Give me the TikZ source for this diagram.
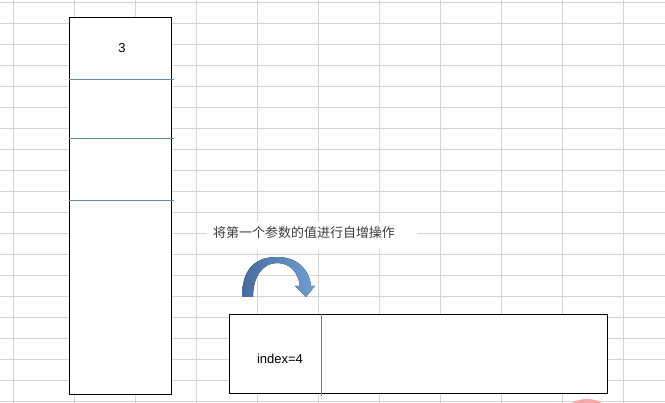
\documentclass[tikz,border=0pt]{standalone}
\usepackage{fontspec}
\setmainfont{Liberation Sans}
\newfontfamily\cjk{Noto Sans CJK SC}
\definecolor{gridgray}{RGB}{212,212,212}
\definecolor{lineblue}{RGB}{95,135,175}
\definecolor{arrowdark}{RGB}{70,108,158}
\definecolor{arrowlight}{RGB}{112,158,212}
\definecolor{notegray}{RGB}{60,60,60}
\definecolor{markpink}{RGB}{246,168,168}

\begin{document}
\begin{tikzpicture}[
    x = 1pt,
    y = -1pt,
    gridline/.style = {draw = gridgray, line width = 1pt},
    cellbox/.style = {
        rectangle,
        draw = black,
        fill = white,
        line width = 1pt,
        inner sep = 0pt
    },
    divider/.style = {draw = lineblue, line width = 0.9pt},
    value/.style = {font = \fontsize{13}{15}\selectfont, inner sep = 0pt},
    note/.style = {font = \cjk\fontsize{13}{15}\selectfont, text = notegray, inner sep = 0pt},
    bend arrow/.style = {left color = arrowdark, right color = arrowlight, draw = none}
]

\useasboundingbox (0,0) rectangle (665,403);
\fill[white] (0,0) rectangle (665,403);

% Spreadsheet grid
\foreach \gx in {0,...,10}
    \draw[gridline] (13+61*\gx,0) -- (13+61*\gx,403);
\foreach \gy in {0,...,19}
    \draw[gridline] (0,3+21*\gy) -- (665,3+21*\gy);

% Stack of cells
\node[cellbox, minimum width = 102pt, minimum height = 377pt] (stack) at (120,206.5) {};
\draw[divider] (stack.north west) ++(0,62) -- ++(105,0);
\draw[divider] (stack.north west) ++(0,121) -- ++(105,0);
\draw[divider] (stack.north west) ++(0,183) -- ++(105,0);
\node[value] (top) at (122,48) {3};

% Note
\node[fill = white, minimum width = 210pt, minimum height = 28pt, inner sep = 0pt] (notebg) at (312,236) {};
\node[note] (notetext) at (304,233) {将第一个参数的值进行自增操作};

% Curved arrow
\fill[bend arrow] (242,297) .. controls (242,266) and (258,257) .. (277,257)
    .. controls (296,257) and (309,268) .. (311,286)
    -- (315,286) -- (306,297) -- (295,286) -- (300,286)
    .. controls (298,272) and (290,263) .. (277,263)
    .. controls (263,263) and (253,276) .. (253,297) -- cycle;

% Index cell
\node[cellbox, minimum width = 378pt, minimum height = 79pt] (index) at (418,354.5) {};
\draw[divider] (index.north west) ++(93,0) -- ++(0,82);
\node[value] (idx) at (280,359) {index=4};

% Corner mark
\begin{scope}
    \clip (0,0) rectangle (665,403);
    \fill[markpink] (587,429) circle (30);
\end{scope}

\end{tikzpicture}
\end{document}
